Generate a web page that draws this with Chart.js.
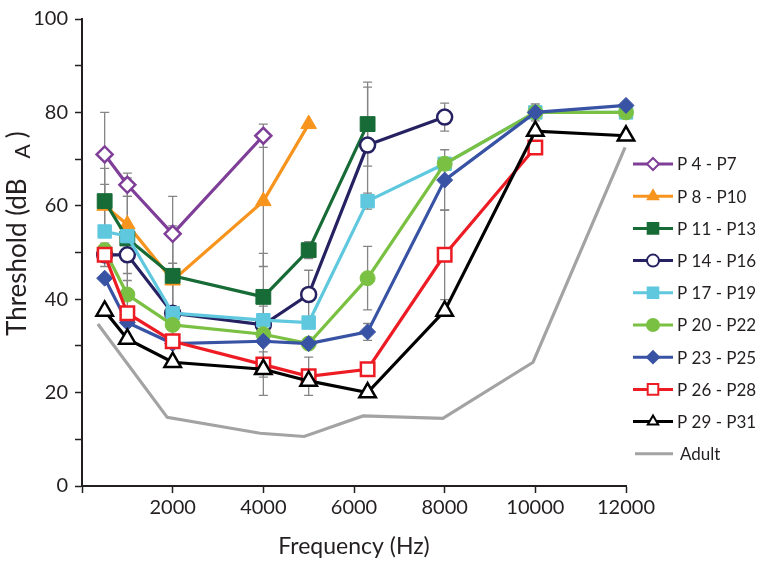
<!DOCTYPE html>
<html>
<head>
<meta charset="utf-8">
<script src="https://cdn.jsdelivr.net/npm/chart.js@4"></script>
<style>
  body { margin: 0; background: #fff; }
  #wrap { width: 763px; height: 564px; position: relative; }
</style>
</head>
<body>
<div id="wrap"><canvas id="grafica"></canvas></div>
<script>
// Frecuencias (Hz) y umbrales por grupo de edad
const frecuencias = [500, 1000, 2000, 4000, 5000, 6300, 8000, 10000, 12000];

const p4_7   = [71, 64.5, 54, 75];
const p8_10  = [60, 56, 44, 61, 77.5];
const p11_13 = [61, 53, 45, 40.5, 50.5, 77.5];
const p14_16 = [49.5, 49.5, 37, 34.5, 41, 73, 79];
const p17_19 = [54.5, 53.5, 37, 35.5, 35, 61, 69, 80, 80];
const p20_22 = [50.5, 41, 34.5, 32.5, 30.5, 44.5, 69, 80, 80];
const p23_25 = [44.5, 35, 30.5, 31, 30.5, 33, 65.5, 80, 81.5];
const p26_28 = [49.5, 37, 31, 26, 23.5, 25, 49.5, 72.5];
const p29_31 = [37.5, 31.5, 26.5, 25, 22.5, 20, 37.5, 76, 75];

// Error (+/-) de cada punto
const err4_7   = [9, 2.5, 8, 2.5];
const err8_10  = [4.6, 6, 10, 14, null];
const err11_13 = [7, 13, 10.7, 9.3, 1.8, 9];
const err14_16 = [2.5, 4, 10.7, 4, 5.2, 12.4, 3];
const err17_19 = [null, null, null, null, null, 1.7, null, null, null];
const err20_22 = [null, 3, null, null, null, 6.8, null, 1.8, null];
const err23_25 = [null, null, null, null, null, 1.8, 6.5, null, null];
const err26_28 = [null, null, null, 2.7, 4.1, null, 9.6, 1, null];
const err29_31 = [null, null, null, 5.6, null, null, null, null, null];

// Adulto (curva sin marcadores)
const adultoFrec = [350, 1880, 3930, 4900, 6200, 7960, 9950, 11980];
const adulto     = [34.7, 14.7, 11.3, 10.6, 15, 14.5, 26.5, 72.5];

const etiquetasY = [0, 20, 40, 60, 80, 100];

function puntos(xs, ys) {
  return ys.map((y, i) => ({ x: xs[i], y: y }));
}

function serie(nombre, valores, errores, color, estilo, radio, abierto, orden) {
  return {
    label: nombre,
    data: puntos(frecuencias, valores),
    errores: errores,
    borderColor: color,
    backgroundColor: color,
    borderWidth: 3.2,
    pointStyle: estilo,
    pointRadius: radio,
    pointHoverRadius: radio,
    pointBackgroundColor: abierto ? '#ffffff' : color,
    pointBorderColor: color,
    pointBorderWidth: abierto ? 2.5 : 1,
    abierto: abierto,
    showLine: true,
    clip: false,
    order: orden
  };
}

const series = [
  serie('P 4 - P7',   p4_7,   err4_7,   '#7f3f98', 'rectRot',  8,   true,  20),
  serie('P 8 - P10',  p8_10,  err8_10,  '#f7941e', 'triangle', 9,   false, 19),
  serie('P 11 - P13', p11_13, err11_13, '#176b36', 'rect',     10.5, false, 18),
  serie('P 14 - P16', p14_16, err14_16, '#262262', 'circle',   7.5, true,  17),
  serie('P 17 - P19', p17_19, err17_19, '#5fc8de', 'rect',     9.5, false, 16),
  serie('P 20 - P22', p20_22, err20_22, '#7ac143', 'circle',   7.5, false, 15),
  serie('P 23 - P25', p23_25, err23_25, '#3953a4', 'rectRot',  8,   false, 14),
  serie('P 26 - P28', p26_28, err26_28, '#ed1c24', 'rect',     9.5, true,  13),
  serie('P 29 - P31', p29_31, err29_31, '#000000', 'triangle', 9.5, true,  12),
  {
    label: 'Adult',
    data: puntos(adultoFrec, adulto),
    borderColor: '#a3a3a3',
    backgroundColor: '#a3a3a3',
    borderWidth: 3.2,
    pointRadius: 0,
    pointHoverRadius: 0,
    showLine: true,
    clip: false,
    order: 100
  }
];

const tinta = '#231f20';
const fuente = 'Lato, "Open Sans", sans-serif';

// Barras de error detrás de las series
const barrasError = {
  id: 'barrasError',
  beforeDatasetsDraw(chart) {
    const ctx = chart.ctx;
    const x = chart.scales.x, y = chart.scales.y;
    ctx.save();
    ctx.strokeStyle = '#858585';
    ctx.lineWidth = 1.3;
    chart.data.datasets.forEach(ds => {
      if (!ds.errores) return;
      ds.data.forEach((p, i) => {
        const e = ds.errores[i];
        if (e == null) return;
        const px = x.getPixelForValue(p.x);
        const top = y.getPixelForValue(p.y + e);
        const bot = y.getPixelForValue(p.y - e);
        ctx.beginPath();
        ctx.moveTo(px, top); ctx.lineTo(px, bot);
        ctx.moveTo(px - 4.5, top); ctx.lineTo(px + 4.5, top);
        ctx.moveTo(px - 4.5, bot); ctx.lineTo(px + 4.5, bot);
        ctx.stroke();
      });
    });
    ctx.restore();
  }
};

function marcador(ctx, estilo, cx, cy, r) {
  ctx.beginPath();
  if (estilo === 'circle') {
    ctx.arc(cx, cy, r, 0, Math.PI * 2);
  } else if (estilo === 'rect') {
    const s = r * Math.SQRT1_2;
    ctx.rect(cx - s, cy - s, 2 * s, 2 * s);
  } else if (estilo === 'rectRot') {
    ctx.moveTo(cx, cy - r); ctx.lineTo(cx + r, cy);
    ctx.lineTo(cx, cy + r); ctx.lineTo(cx - r, cy);
    ctx.closePath();
  } else if (estilo === 'triangle') {
    ctx.moveTo(cx, cy - r);
    ctx.lineTo(cx + r * 0.866, cy + r * 0.5);
    ctx.lineTo(cx - r * 0.866, cy + r * 0.5);
    ctx.closePath();
  }
}

// Leyenda a la derecha y título del eje Y
const leyenda = {
  id: 'leyenda',
  afterDraw(chart) {
    const ctx = chart.ctx;
    ctx.save();
    chart.data.datasets.forEach((ds, i) => {
      const yy = 164 + i * 32.2;
      ctx.strokeStyle = ds.borderColor;
      ctx.lineWidth = 3;
      ctx.beginPath();
      ctx.moveTo(ds.pointStyle ? 633 : 635, yy);
      ctx.lineTo(673, yy);
      ctx.stroke();
      if (ds.pointStyle) {
        const r = ds.pointStyle === 'rect' ? 7.5 : 6;
        marcador(ctx, ds.pointStyle, 653, yy, r);
        ctx.fillStyle = ds.abierto ? '#ffffff' : ds.borderColor;
        ctx.fill();
        ctx.lineWidth = 2;
        ctx.stroke();
      }
      ctx.fillStyle = tinta;
      ctx.font = '17px ' + fuente;
      ctx.textBaseline = 'middle';
      ctx.textAlign = 'left';
      ctx.fillText(ds.label, ds.pointStyle ? 677 : 680, yy + 1);
    });

    // Título del eje Y con subíndice
    ctx.translate(26, 336);
    ctx.rotate(-Math.PI / 2);
    ctx.fillStyle = tinta;
    ctx.textBaseline = 'alphabetic';
    ctx.textAlign = 'left';
    ctx.font = '26px ' + fuente;
    const t1 = 'Threshold (dB';
    ctx.fillText(t1, 0, 0);
    let w = ctx.measureText(t1).width + 20;
    ctx.font = '21px ' + fuente;
    ctx.fillText('A', w, 4);
    w += ctx.measureText('A').width + 6;
    ctx.font = '26px ' + fuente;
    ctx.fillText(')', w, 0);
    ctx.restore();
  }
};

new Chart(document.getElementById('grafica').getContext('2d'), {
  type: 'scatter',
  data: { datasets: series },
  options: {
    responsive: true,
    maintainAspectRatio: false,
    animation: false,
    events: [],
    layout: { padding: { left: 0, right: 137, top: 12, bottom: 0 } },
    plugins: {
      legend: { display: false },
      tooltip: { enabled: false }
    },
    scales: {
      x: {
        type: 'linear',
        min: 0,
        max: 12000,
        border: { color: tinta, width: 2 },
        grid: { drawOnChartArea: false, drawTicks: true, tickLength: 7, tickWidth: 1.5, tickColor: tinta },
        ticks: {
          stepSize: 2000,
          padding: 3,
          color: tinta,
          font: { family: fuente, size: 20 },
          maxRotation: 0,
          callback: v => v === 0 ? '' : v
        },
        title: {
          display: true,
          text: 'Frequency (Hz)',
          color: tinta,
          font: { family: fuente, size: 23 },
          padding: { top: 0, bottom: 4 }
        },
        afterFit: s => { s.height = 78; }
      },
      y: {
        min: 0,
        max: 100,
        border: { color: tinta, width: 2 },
        grid: { drawOnChartArea: false, drawTicks: true, tickLength: 7, tickWidth: 1.5, tickColor: tinta },
        ticks: {
          stepSize: 10,
          padding: 7,
          color: tinta,
          font: { family: fuente, size: 20 },
          callback: v => etiquetasY.includes(v) ? v : ''
        },
        afterFit: s => { s.width = 82; }
      }
    }
  },
  plugins: [barrasError, leyenda]
});
</script>
</body>
</html>
